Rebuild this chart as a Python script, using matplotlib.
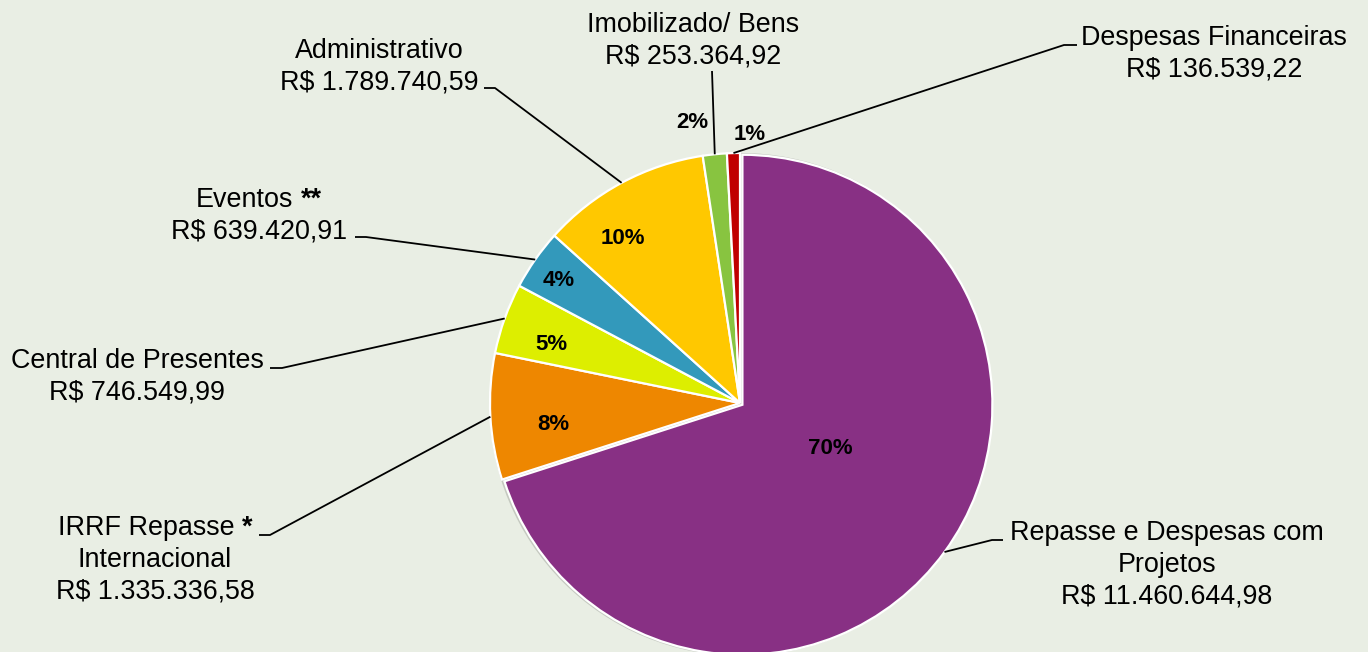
import matplotlib
matplotlib.use("Agg")
import matplotlib.pyplot as plt
from matplotlib.patches import Circle
import numpy as np

# ---------------- data ----------------
categories = ["Repasse e Despesas com\nProjetos", "IRRF Repasse *\nInternacional",
              "Central de Presentes", "Eventos **", "Administrativo",
              "Imobilizado/ Bens", "Despesas Financeiras"]
values = [11460644.98, 1335336.58, 746549.99, 639420.91, 1789740.59, 253364.92, 136539.22]
pct_labels = ["70%", "8%", "5%", "4%", "10%", "2%", "1%"]
colors = ["#883084", "#EE8700", "#DDEE00", "#3399BB", "#FFC800", "#88C440", "#C00000"]

# ---------------- layout (pixels, origin top-left) ----------------
W, H = 1368, 652
CX, CY, R = 740, 403, 250
text_pos = [(1167, 562), (155, 557), (137, 374), (259, 213), (379, 64), (693, 38), (1214, 51)]
elbows = [(992, 540), (270, 535), (282, 368), (366, 237), (495, 88), (712, 71), (1064, 45)]
ends = [(1003, 540), (259, 535), (270, 368), (355, 237), (484, 88), (712, 71), (1077, 45)]
pct_pos = [(830, 448), (553, 424), (551, 344), (559, 281), (623, 239), (692, 123), (750, 134)]
explode = [3, 0, 0, 0, 0, 0, 0]
LINE_STEP = 31.5      # px between label lines
BASE_OFF = 9.6        # px from line centre to baseline
FS = 19.4

BG = "#E9EEE4"
FONT = "Liberation Sans"


def brl(v):
    s = f"{v:,.2f}".replace(",", "#").replace(".", ",").replace("#", ".")
    return "R$ " + s


def fy(y):
    return H - y


fig = plt.figure(figsize=(W / 100, H / 100), dpi=100, facecolor=BG)
ax = fig.add_axes([0, 0, 1, 1])
ax.set_facecolor(BG)

# subtle shadow under the pie
ax.add_patch(Circle((CX + 1, fy(CY) - 1.5), R + 1.5, facecolor="#9A9E96", alpha=0.45,
                    edgecolor="none", zorder=0.5))

wedges, _ = ax.pie(values, colors=colors, startangle=90, counterclock=False,
                   center=(CX, fy(CY)), radius=R, explode=explode,
                   wedgeprops=dict(edgecolor="white", linewidth=1.6))

ax.set_xlim(0, W)
ax.set_ylim(0, H)
ax.set_aspect("equal")
ax.axis("off")

for w in wedges:
    w.set_zorder(1)

renderer = fig.canvas.get_renderer()


def text_width(s, weight="normal"):
    t = ax.text(0, 0, s, fontsize=FS, family=FONT, fontweight=weight)
    wdt = t.get_window_extent(renderer).width
    t.remove()
    return wdt


space_w = text_width("R R") - text_width("RR")

for i, w in enumerate(wedges):
    th = np.deg2rad((w.theta1 + w.theta2) / 2)
    cx, cy = w.center
    ax_x = cx + w.r * np.cos(th)
    ax_y = cy + w.r * np.sin(th)
    xs = [ax_x, elbows[i][0], ends[i][0]]
    ys = [ax_y, fy(elbows[i][1]), fy(ends[i][1])]
    ax.plot(xs, ys, color="black", lw=1.3, zorder=3, solid_capstyle="butt")

    lines = categories[i].split("\n") + [brl(values[i])]
    n = len(lines)
    tx, ty = text_pos[i]
    for k, line in enumerate(lines):
        yc = ty + (k - (n - 1) / 2) * LINE_STEP
        yb = fy(yc + BASE_OFF)
        if "*" in line:
            base, stars = line.rsplit(" ", 1)
            wb = text_width(base)
            ws = text_width(stars, "bold")
            total = wb + space_w + ws
            x0 = tx - total / 2
            ax.text(x0, yb, base, ha="left", va="baseline", fontsize=FS, family=FONT,
                    color="black", zorder=4)
            ax.text(x0 + wb + space_w, yb, stars, ha="left", va="baseline", fontsize=FS,
                    family=FONT, fontweight="bold", color="black", zorder=4)
        else:
            ax.text(tx, yb, line, ha="center", va="baseline", fontsize=FS, family=FONT,
                    color="black", zorder=4)

    px, py = pct_pos[i]
    ax.text(px, fy(py), pct_labels[i], ha="center", va="center", fontsize=16,
            fontweight="bold", family=FONT, color="black", zorder=4)

fig.savefig("out.png", dpi=100, facecolor=BG)
